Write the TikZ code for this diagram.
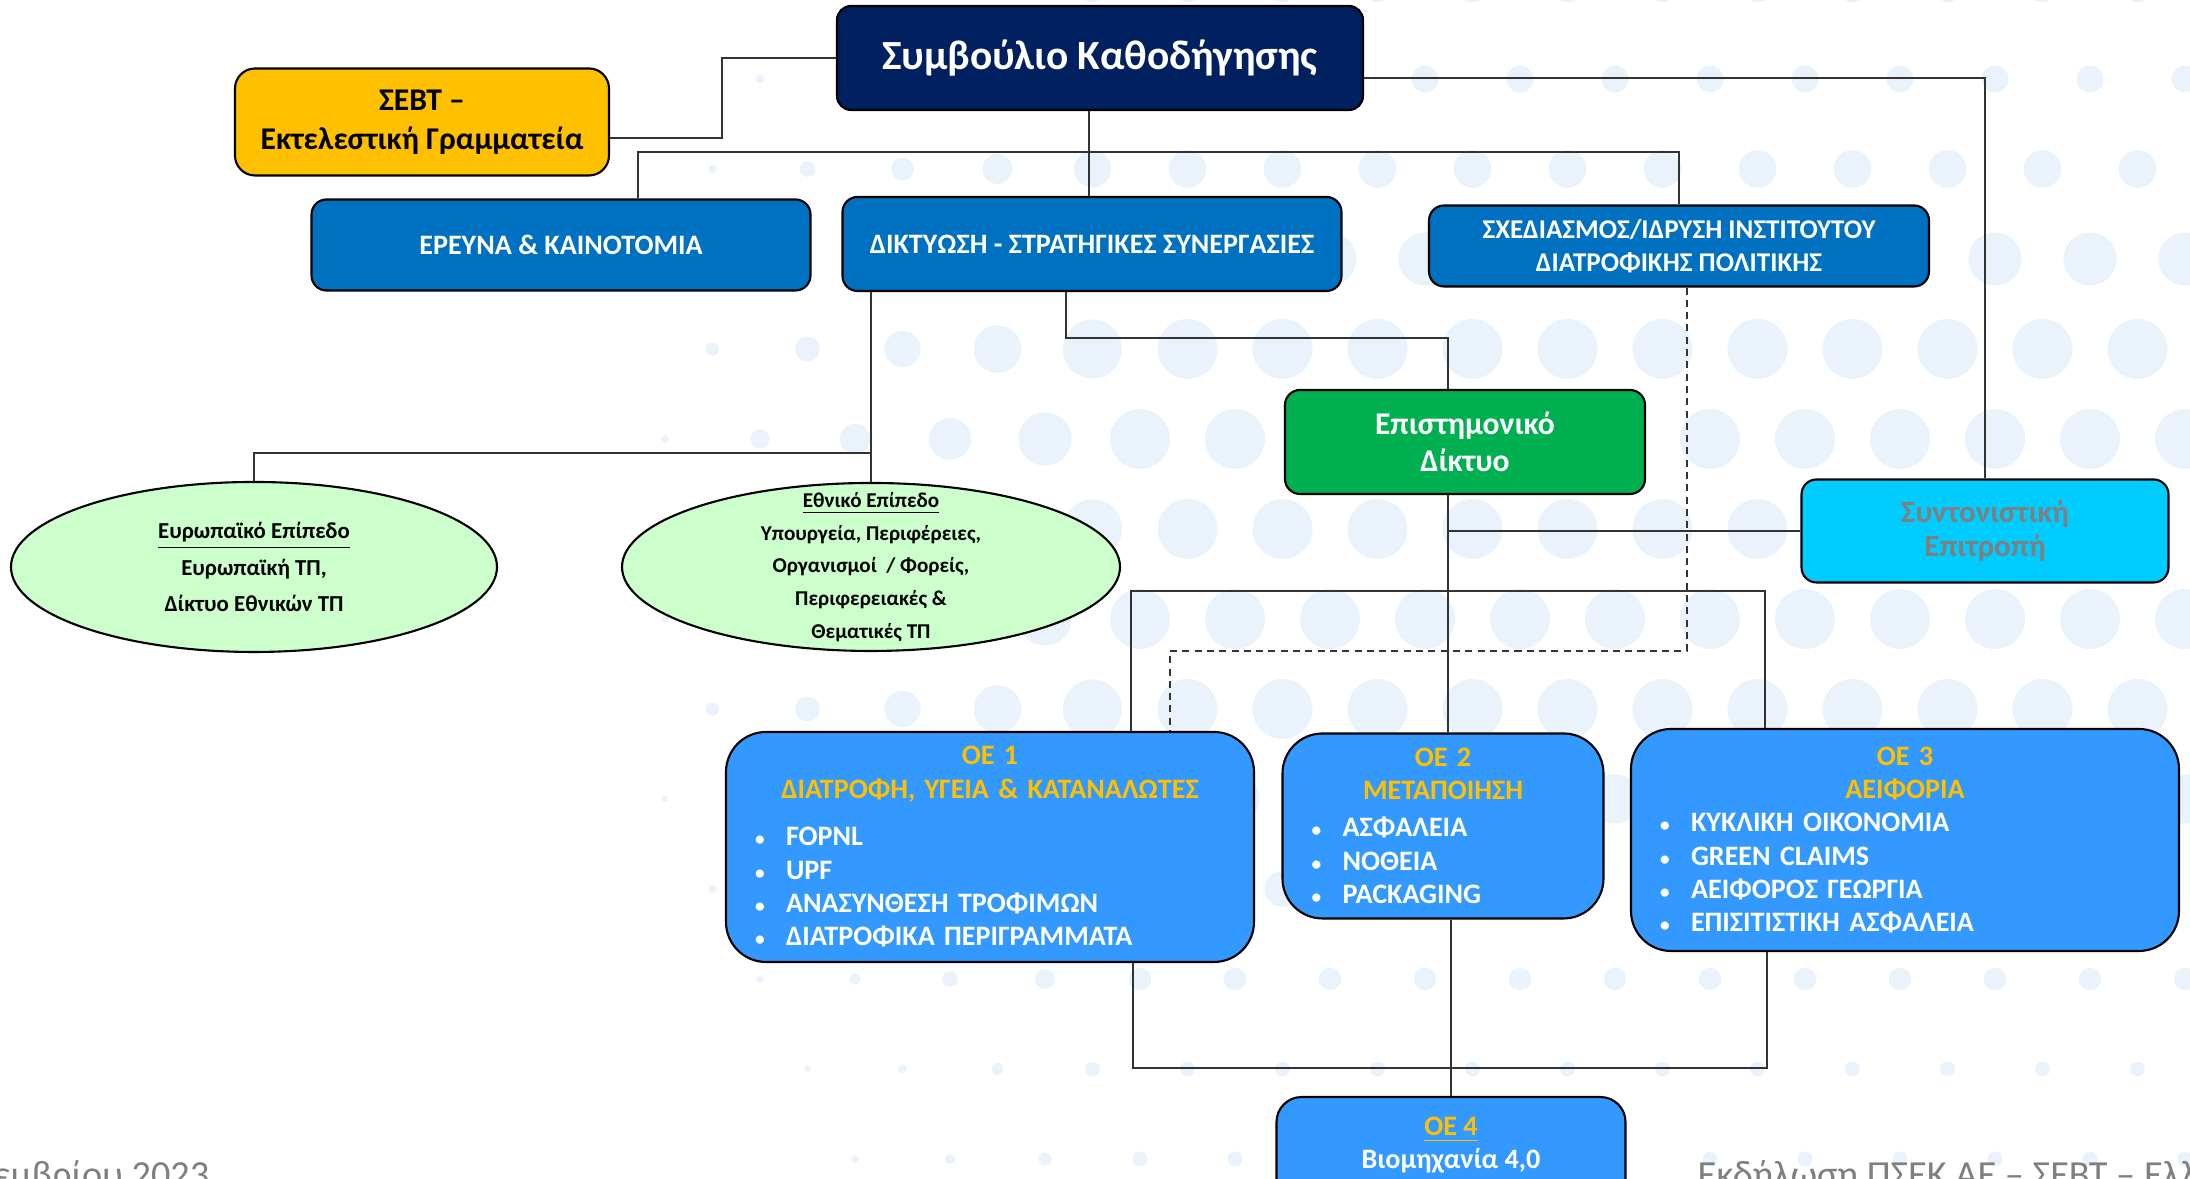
\documentclass[tikz,border=0pt]{standalone}
\usepackage{fontspec}
\setmainfont{Carlito}
\usepackage{tikz}
\usetikzlibrary{shapes.geometric, calc}
\setlength\parindent{0pt}
\definecolor{navy}{RGB}{0,32,96}
\definecolor{sebtgold}{RGB}{255,192,0}
\definecolor{axisblue}{RGB}{0,112,192}
\definecolor{netgreen}{RGB}{0,176,80}
\definecolor{coordcyan}{RGB}{0,204,255}
\definecolor{levelgreen}{RGB}{204,255,204}
\definecolor{oeblue}{RGB}{51,153,255}
\definecolor{dotblue}{RGB}{234,242,251}
\definecolor{labelgray}{RGB}{127,127,127}
\newcommand{\oehd}[1]{\makebox[\hsize]{\textcolor{sebtgold}{#1}}}
\newcommand{\oeit}{\hspace*{2.9mm}\makebox[3.1mm][l]{\fontsize{5.5}{6}\selectfont\textbullet}}

\begin{document}
\begin{tikzpicture}[
    unit/.style={draw,line width=.6pt,rounded corners=1.5mm,fill=#1,text=white,
      align=center,inner sep=0pt,font=\bfseries},
    unit/.default=axisblue,
    level/.style={ellipse,draw,line width=.6pt,fill=levelgreen,inner xsep=0pt,
      align=center},
    oebox/.style={draw,line width=.6pt,rounded corners=4mm,fill=oeblue,text=white,
      inner xsep=0pt,align=left,font=\bfseries\fontsize{8}{9.5}\selectfont},
    link/.style={draw=black!80,line width=.5pt},
    dashlink/.style={link,dash pattern=on 2pt off 1.5pt},
    foot/.style={text=labelgray,inner sep=0pt,font=\fontsize{10.9}{13}\selectfont},
    dot/.style={fill=dotblue}
  ]
  \useasboundingbox (0,0) rectangle (21.9,11.79);

  % background dots
  \foreach \i in {0,...,23} {
    \foreach \j in {0,...,13} {
      \pgfmathsetmacro\dx{\i*0.95+mod(\j,2)*0.475}
      \pgfmathsetmacro\dy{\j*0.9+0.2}
      \pgfmathsetmacro\dr{0.3*min(1,max(0,(\dx-6)/5))*min(1,max(0.25,(\dy-0.5)/4))*min(1,max(0.45,(12.3-\dy)/3.5))}
      \ifdim\dr pt>0.03pt \fill[dot] (\dx,\dy) circle (\dr); \fi
    }
  }

  % top level
  \node[unit=navy,rounded corners=1.4mm,minimum width=5.26cm,minimum height=1.04cm,
    font=\bfseries\fontsize{11.8}{14}\selectfont] (sk) at (11.00,11.21) {Συμβούλιο Καθοδήγησης};
  \node[unit=sebtgold,text=black,rounded corners=2mm,minimum width=3.74cm,minimum height=1.07cm,
    font=\bfseries\fontsize{9}{11}\selectfont] (sebt) at (4.22,10.57) {ΣΕΒΤ –\\Εκτελεστική Γραμματεία};

  % axes
  \node[unit,minimum width=4.99cm,minimum height=0.91cm,
    font=\bfseries\fontsize{8}{10}\selectfont] (ereuna) at (5.61,9.34) {ΕΡΕΥΝΑ \& ΚΑΙΝΟΤΟΜΙΑ};
  \node[unit,minimum width=4.99cm,minimum height=0.94cm,
    font=\bfseries\fontsize{8}{10}\selectfont] (diktyosi) at (10.92,9.35) {ΔΙΚΤΥΩΣΗ - ΣΤΡΑΤΗΓΙΚΕΣ ΣΥΝΕΡΓΑΣΙΕΣ};
  \node[unit,minimum width=5.00cm,minimum height=0.81cm,
    font=\bfseries\fontsize{7.7}{9.4}\selectfont] (inst) at (16.79,9.33) {ΣΧΕΔΙΑΣΜΟΣ/ΙΔΡΥΣΗ ΙΝΣΤΙΤΟΥΤΟΥ\\ΔΙΑΤΡΟΦΙΚΗΣ ΠΟΛΙΤΙΚΗΣ};

  % network and committee
  \node[unit=netgreen,minimum width=3.60cm,minimum height=1.04cm,
    font=\bfseries\fontsize{9}{10.7}\selectfont] (epist) at (14.65,7.37) {Επιστημονικό\\Δίκτυο};
  \node[unit=coordcyan,text=labelgray,minimum width=3.67cm,minimum height=1.03cm,
    font=\bfseries\fontsize{8.8}{9.6}\selectfont] (synt) at (19.85,6.48) {Συντονιστική\\Επιτροπή};

  % levels
  \node[level,minimum width=4.86cm,minimum height=1.70cm,
    font=\bfseries\fontsize{6.5}{10.3}\selectfont] (euro) at (2.54,6.12)
    {\underline{Ευρωπαϊκό Επίπεδο}\\Ευρωπαϊκή ΤΠ,\\Δίκτυο Εθνικών ΤΠ};
  \node[level,inner ysep=-2.5mm,minimum width=4.98cm,minimum height=1.68cm,
    font=\bfseries\fontsize{6}{9.3}\selectfont] (ethn) at (8.71,6.12)
    {\underline{Εθνικό Επίπεδο}\\Υπουργεία, Περιφέρειες,\\Οργανισμοί~ / Φορείς,\\Περιφερειακές \&\\Θεματικές ΤΠ};

  % working groups
  \node[oebox,text width=5.28cm,minimum height=2.30cm] (oe1) at (9.90,3.32)
    {\oehd{ΟΕ 1}\\\oehd{ΔΙΑΤΡΟΦΗ, ΥΓΕΙΑ \& ΚΑΤΑΝΑΛΩΤΕΣ}\\[4pt]
     \oeit FOPNL\\\oeit UPF\\\oeit ΑΝΑΣΥΝΘΕΣΗ ΤΡΟΦΙΜΩΝ\\\oeit ΔΙΑΤΡΟΦΙΚΑ ΠΕΡΙΓΡΑΜΜΑΤΑ};
  \node[oebox,text width=3.21cm,minimum height=1.85cm] (oe2) at (14.43,3.53)
    {\oehd{ΟΕ 2}\\\oehd{ΜΕΤΑΠΟΙΗΣΗ}\\[1pt]
     \oeit ΑΣΦΑΛΕΙΑ\\\oeit ΝΟΘΕΙΑ\\\oeit PACKAGING};
  \node[oebox,text width=5.48cm,minimum height=2.22cm] (oe3) at (19.05,3.39)
    {\oehd{ΟΕ 3}\\\oehd{ΑΕΙΦΟΡΙΑ}\\
     \oeit ΚΥΚΛΙΚΗ ΟΙΚΟΝΟΜΙΑ\\\oeit GREEN CLAIMS\\\oeit ΑΕΙΦΟΡΟΣ ΓΕΩΡΓΙΑ\\\oeit ΕΠΙΣΙΤΙΣΤΙΚΗ ΑΣΦΑΛΕΙΑ};
  \node[oebox,rounded corners=2.5mm,align=center,inner ysep=2mm,minimum width=3.49cm,
    anchor=north] (oe4) at (14.51,0.83)
    {\textcolor{sebtgold}{\underline{ΟΕ 4}}\\Βιομηχανία 4,0\\\rule{0pt}{6mm}};

  % footer
  \node[foot,anchor=base east] (datefoot) at (2.10,-0.09) {Δεκεμβρίου 2023};
  \node[foot,anchor=base west] (eventfoot) at (16.97,-0.09) {Εκδήλωση ΠΣΕΚ ΑΕ – ΣΕΒΤ – Ελλάδα};

  % connectors
  \draw[link] (sk.west) -- ++(-1.14,0) |- ([yshift=-1.6mm]sebt.east);
  \draw[link] ([xshift=-1.1mm]sk.south) -- ++(0,-0.41) coordinate (bus);
  \draw[link] ([xshift=7.7mm]ereuna.north) |- (bus) -| (inst.north);
  \draw[link] (bus) -- (bus |- diktyosi.north);
  \draw[link] ([yshift=-2mm]sk.east) -| (synt.north);

  \draw[link] (ethn.north |- diktyosi.south) -- (ethn.north);
  \draw[link] ([yshift=2.9mm]ethn.north) -| (euro.north);
  \draw[link] ([xshift=-2.6mm]diktyosi.south) -- ++(0,-0.46) -| ([xshift=-1.7mm]epist.north);

  \coordinate (spine) at ([xshift=-1.7mm]epist.south);
  \coordinate (oebus) at (14.48,5.88);
  \coordinate (dashturn) at (11.70,5.28);
  \coordinate (lowbus) at (14.50,1.11);
  \draw[link] (spine) -- (spine |- oe2.north);
  \draw[link] (synt.west) -- (synt.west -| spine);
  \draw[link] ([xshift=14.1mm]oe1.north) |- (oebus) -| ([xshift=-14mm]oe3.north);
  \draw[dashlink] ([xshift=0.8mm]inst.south) |- (dashturn) -- (dashturn |- oe1.north);
  \draw[link] ([xshift=14.3mm]oe1.south) |- (lowbus) -| ([xshift=-13.8mm]oe3.south);
  \draw[link] (oe4.north |- oe2.south) -- (oe4.north);
\end{tikzpicture}
\end{document}
